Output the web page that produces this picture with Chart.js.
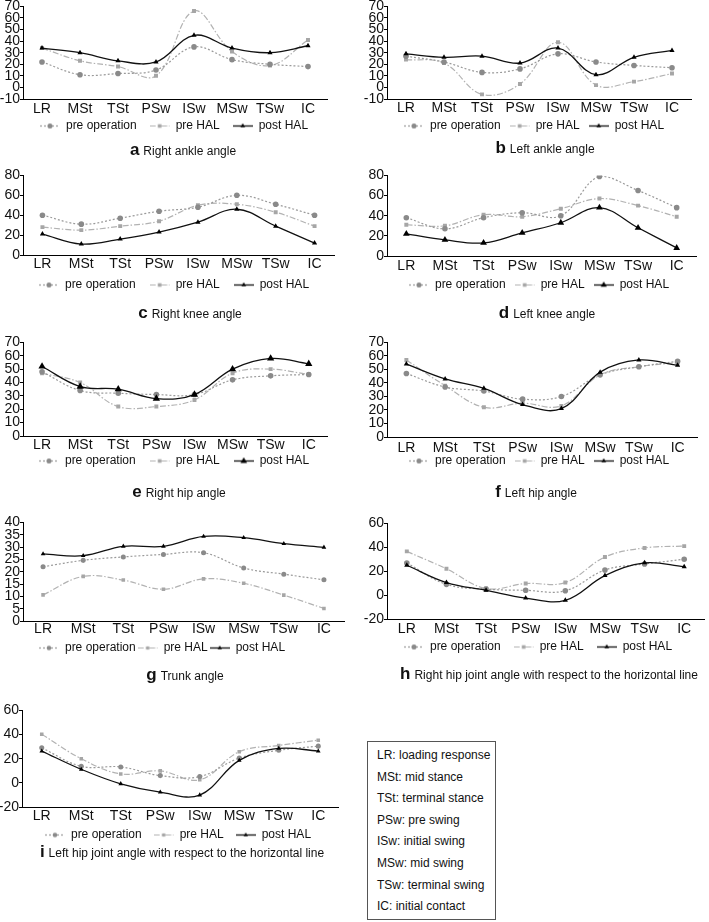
<!DOCTYPE html>
<html>
<head>
<meta charset="utf-8">
<script src="https://cdn.jsdelivr.net/npm/chart.js@4.4.0/dist/chart.umd.min.js"></script>
<style>
  body { margin: 0; width: 709px; height: 922px; position: relative; overflow: hidden; background: #fff;
         font-family: "Liberation Sans", Arial, sans-serif; color: #111; }
  canvas { position: absolute; }
  .ttl { position: absolute; white-space: nowrap; transform: translate(-50%, -50%); font-size: 12px; }
  .ttl b { font-size: 17px; margin-right: 4px; }
  #key { position: absolute; left: 367px; top: 741px; width: 129px; height: 179px; border: 1px solid #555;
         box-sizing: border-box; padding: 3px 0 0 9px; font-size: 12px; line-height: 21.6px; }
</style>
</head>
<body>
<div id="key"></div>
<script>
// gait phases (x axis) and what they stand for
const phases = ['LR', 'MSt', 'TSt', 'PSw', 'ISw', 'MSw', 'TSw', 'IC'];
const phaseNames = ['loading response', 'mid stance', 'terminal stance', 'pre swing',
                    'initial swing', 'mid swing', 'terminal swing', 'initial contact'];
const seriesNames = ['pre operation', 'pre HAL', 'post HAL'];

// y ranges: [min, max, step]
const ankleRange = [-10, 70, 10];
const kneeRange = [0, 80, 20];
const hipRange = [0, 70, 10];
const trunkRange = [0, 40, 5];
const horizRange = [-20, 60, 20];

// a Right ankle
const rAnklePreOp = [22, 11, 12, 15, 35, 24, 20, 18];
const rAnklePreHal = [34, 23, 18, 10, 66, 31, 19, 41];
const rAnklePostHal = [34, 30, 23, 22, 45, 34, 30, 36];
// b Left ankle
const lAnklePreOp = [27, 22, 13, 16, 29, 22, 19, 17];
const lAnklePreHal = [24, 21, -6, 3, 39, 2, 5, 12];
const lAnklePostHal = [29, 26, 27, 21, 34, 11, 26, 32];
// c Right knee
const rKneePreOp = [40, 31, 37, 44, 48, 60, 51, 40];
const rKneePreHal = [28, 25, 29, 34, 50, 51, 43, 29];
const rKneePostHal = [21, 11, 16, 23, 33, 46, 29, 12];
// d Left knee
const lKneePreOp = [38, 27, 38, 43, 40, 79, 65, 48];
const lKneePreHal = [31, 30, 41, 39, 47, 57, 50, 39];
const lKneePostHal = [22, 16, 13, 23, 33, 48, 28, 8];
// e Right hip
const rHipPreOp = [48, 34, 32, 31, 31, 42, 45, 46];
const rHipPreHal = [47, 40, 22, 22, 27, 47, 50, 46];
const rHipPostHal = [52, 37, 35, 28, 31, 50, 58, 54];
// f Left hip
const lHipPreOp = [47, 37, 34, 28, 30, 46, 52, 56];
const lHipPreHal = [57, 38, 22, 25, 23, 46, 52, 55];
const lHipPostHal = [54, 43, 36, 24, 21, 48, 57, 53];
// g Trunk
const trunkPreOp = [22, 24.6, 26, 27, 27.7, 21.5, 19, 16.7];
const trunkPreHal = [10.6, 18.1, 16.6, 12.9, 17.1, 15.3, 10.5, 5.1];
const trunkPostHal = [27.2, 26.5, 30.3, 30.3, 34.3, 33.8, 31.4, 29.9];
// h Right hip vs horizontal
const rHorizPreOp = [26.9, 9, 5, 4, 3.6, 21, 26, 30];
const rHorizPreHal = [36.6, 22, 5.5, 9.7, 10.5, 31.9, 39.5, 41];
const rHorizPostHal = [25, 10.5, 4, -2.5, -4.4, 16.3, 27, 23.8];
// i Left hip vs horizontal
const lHorizPreOp = [29, 13.7, 13.2, 6, 5.2, 20.5, 27, 30.4];
const lHorizPreHal = [40.3, 20, 7.4, 9.9, 2.5, 25.8, 31, 35.3];
const lHorizPostHal = [26.3, 11.2, -0.8, -7.7, -10.1, 18.6, 28.5, 26.3];

Chart.defaults.font.family = '"Liberation Sans", Arial, sans-serif';
Chart.defaults.color = '#111';

const styles = [
  {line: '#9a9a9a', marker: '#8a8a8a', dash: [2, 2], width: 1.2, shape: 'circle', r: 2.8},
  {line: '#b2b2b2', marker: '#a6a6a6', dash: [6, 2, 1.5, 2], width: 1.2, shape: 'rect', r: 2.8},
  {line: '#111', marker: '#000', dash: [], width: 1.3, shape: 'triangle', r: 3}
];

// layout of each panel in page pixels
const panels = [
  {tag: 'a', title: 'Right ankle angle', data: [rAnklePreOp, rAnklePreHal, rAnklePostHal], range: ankleRange,
   x: 0, axisX: 23, right: 331, yTop: 6, yBot: 99, labelY: 108, legendY: 126, legendX: 174, pad: 13, tx: 183, ty: 150, ms: 1},
  {tag: 'b', title: 'Left ankle angle', data: [lAnklePreOp, lAnklePreHal, lAnklePostHal], range: ankleRange,
   x: 355, axisX: 387, right: 695, yTop: 6, yBot: 99, labelY: 107, legendY: 126, legendX: 534, pad: 9, tx: 545, ty: 148, ms: 1},
  {tag: 'c', title: 'Right knee angle', data: [rKneePreOp, rKneePreHal, rKneePostHal], range: kneeRange,
   x: 0, axisX: 23, right: 338, yTop: 175, yBot: 255, labelY: 263, legendY: 285, legendX: 174, pad: 14, tx: 190, ty: 313, ms: 1},
  {tag: 'd', title: 'Left knee angle', data: [lKneePreOp, lKneePreHal, lKneePostHal], range: kneeRange,
   x: 355, axisX: 387, right: 700, yTop: 175, yBot: 256, labelY: 265, legendY: 285, legendX: 539, pad: 9, tx: 547, ty: 313, ms: 1.3},
  {tag: 'e', title: 'Right hip angle', data: [rHipPreOp, rHipPreHal, rHipPostHal], range: hipRange,
   x: 0, axisX: 23, right: 332, yTop: 342, yBot: 436, labelY: 444, legendY: 461, legendX: 174, pad: 14, tx: 179, ty: 492, ms: 1.4},
  {tag: 'f', title: 'Left hip angle', data: [lHipPreOp, lHipPreHal, lHipPostHal], range: hipRange,
   x: 355, axisX: 387, right: 701, yTop: 342, yBot: 437, labelY: 447, legendY: 461, legendX: 539, pad: 9, tx: 536, ty: 492, ms: 1},
  {tag: 'g', title: 'Trunk angle', data: [trunkPreOp, trunkPreHal, trunkPostHal], range: trunkRange,
   x: 0, axisX: 23, right: 348, yTop: 522, yBot: 621, labelY: 628, legendY: 648, legendX: 162, pad: 2, tx: 185, ty: 675, ms: 0.9},
  {tag: 'h', title: 'Right hip joint angle with respect to the horizontal line', data: [rHorizPreOp, rHorizPreHal, rHorizPostHal], range: horizRange,
   x: 355, axisX: 387, right: 708, yTop: 523, yBot: 619, labelY: 628, legendY: 647, legendX: 538, pad: 13, tx: 549, ty: 674, ms: 1},
  {tag: 'i', title: 'Left hip joint angle with respect to the horizontal line', data: [lHorizPreOp, lHorizPreHal, lHorizPostHal], range: horizRange,
   x: 0, axisX: 22, right: 342, yTop: 710, yBot: 807, labelY: 815, legendY: 835, legendX: 178, pad: 12, tx: 182, ty: 852, ms: 0.9}
];

const drawMarker = (g, shape, x, y, r) => {
  g.beginPath();
  if (shape === 'circle') {
    g.arc(x, y, r, 0, Math.PI * 2);
  } else if (shape === 'rect') {
    const s = r * Math.SQRT1_2;
    g.rect(x - s, y - s, s * 2, s * 2);
  } else {
    g.moveTo(x, y - r);
    g.lineTo(x + r * 0.87, y + r * 0.5);
    g.lineTo(x - r * 0.87, y + r * 0.5);
    g.closePath();
  }
  g.fill();
};

// small line + marker picture for the legend
const makeIcon = (st, r) => {
  const c = document.createElement('canvas');
  c.width = 20; c.height = 9;
  const g = c.getContext('2d');
  g.strokeStyle = st.line; g.lineWidth = st.width; g.setLineDash(st.dash);
  g.beginPath(); g.moveTo(0, 4.5); g.lineTo(20, 4.5); g.stroke();
  g.fillStyle = st.marker;
  drawMarker(g, st.shape, 10, 4.5, r * 0.9);
  return c;
};

// move the legend to where the reference has it
const legendPlace = {
  id: 'legendPlace',
  afterLayout(chart, args, opts) {
    const lg = chart.legend;
    if (!lg) return;
    const dx = opts.cx - (lg.left + lg.right) / 2;
    lg.left += dx; lg.right += dx;
    const dy = opts.cy - (lg.top + opts.pad + 6);
    lg.top += dy; lg.bottom += dy;
  }
};

const padTop = 8;
const fontSize = 12;
const tickSize = 14;

panels.forEach(p => {
  const canvasTop = p.yTop - padTop;
  const plotH = p.yBot - p.yTop;
  const xH = p.labelY - p.yBot + 10;
  const legendH = fontSize + p.pad + 10;
  const extra = 6;
  const cv = document.createElement('canvas');
  cv.width = p.right - p.x;
  cv.height = padTop + plotH + xH + legendH + extra;
  cv.style.left = p.x + 'px';
  cv.style.top = canvasTop + 'px';
  cv.style.width = cv.width + 'px';
  cv.style.height = cv.height + 'px';
  document.body.appendChild(cv);

  // only the black triangles change size between panels
  const radius = i => styles[i].r * (i === 2 ? p.ms : Math.min(1, p.ms));
  const icons = styles.map((st, i) => makeIcon(st, radius(i)));
  const datasets = p.data.map((vals, i) => {
    const st = styles[i];
    return {
      label: seriesNames[i],
      data: vals,
      borderColor: st.line,
      backgroundColor: st.marker,
      borderWidth: st.width,
      borderDash: st.dash,
      pointStyle: st.shape,
      pointRadius: radius(i),
      pointBorderWidth: 0,
      pointBackgroundColor: st.marker,
      tension: 0.38,
      fill: false,
      order: [1, 2, 0][i]
    };
  });

  new Chart(cv, {
    type: 'line',
    data: {labels: phases, datasets: datasets},
    plugins: [legendPlace],
    options: {
      responsive: false,
      animation: false,
      devicePixelRatio: 1,
      layout: {padding: {top: padTop, left: 0, right: 0, bottom: extra}},
      plugins: {
        tooltip: {enabled: false},
        legendPlace: {cx: p.legendX - p.x, cy: p.legendY - canvasTop, pad: p.pad},
        legend: {
          position: 'bottom',
          labels: {
            usePointStyle: true,
            pointStyleWidth: 20,
            padding: p.pad,
            font: {size: fontSize},
            color: '#111',
            generateLabels: chart => chart.data.datasets.map((ds, i) => ({
              text: ds.label, pointStyle: icons[i], fillStyle: ds.backgroundColor,
              strokeStyle: ds.borderColor, lineWidth: 0, hidden: false, datasetIndex: i, fontColor: '#111'
            }))
          }
        }
      },
      scales: {
        x: {
          offset: true,
          grid: {display: false, drawTicks: false, tickLength: 0, offset: true},
          border: {display: true, color: '#000', width: 1},
          ticks: {font: {size: tickSize}, color: '#111', maxRotation: 0, autoSkip: false,
                  padding: Math.max(0, p.labelY - p.yBot - 7.5)},
          afterFit: s => { s.height = xH; }
        },
        y: {
          min: p.range[0], max: p.range[1],
          ticks: {stepSize: p.range[2], font: {size: tickSize}, color: '#111', padding: 0, autoSkip: false},
          grid: {drawOnChartArea: false, drawTicks: true, tickLength: 3, color: '#000'},
          border: {display: true, color: '#000', width: 1},
          afterFit: s => { s.width = p.axisX - p.x; }
        }
      }
    }
  });

  const t = document.createElement('div');
  t.className = 'ttl';
  t.style.left = p.tx + 'px';
  t.style.top = p.ty + 'px';
  t.innerHTML = '<b>' + p.tag + '</b>' + p.title;
  document.body.appendChild(t);
});

const key = document.getElementById('key');
phases.forEach((ph, i) => {
  const d = document.createElement('div');
  d.textContent = ph + ': ' + phaseNames[i];
  key.appendChild(d);
});
</script>
</body>
</html>
